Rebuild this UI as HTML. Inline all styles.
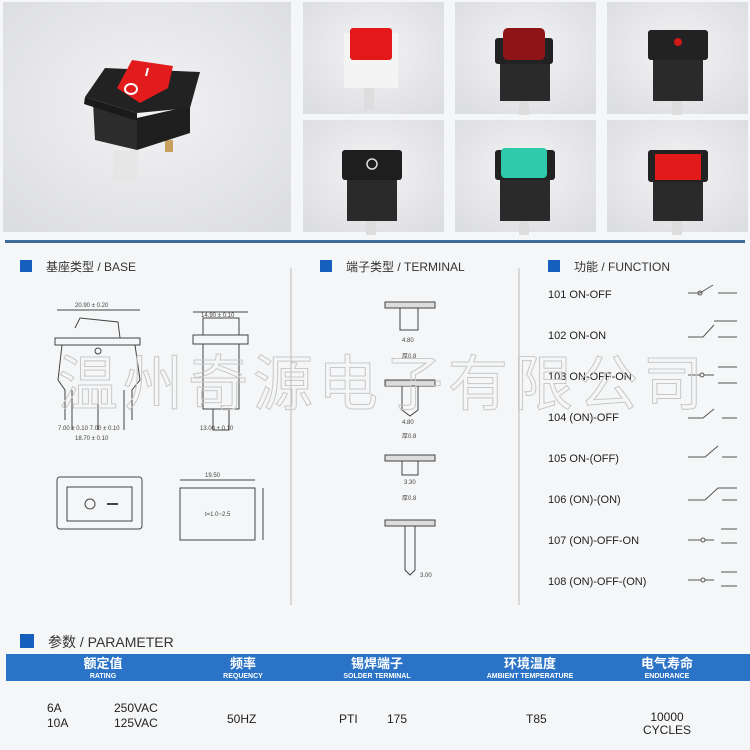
<!DOCTYPE html>
<html><head><meta charset="utf-8"><style>
html,body{margin:0;padding:0;background:#f5f6f7;}
svg{display:block;font-family:"Liberation Sans","Noto Sans CJK SC",sans-serif;}
</style></head><body>
<svg width="750" height="750" viewBox="0 0 750 750" xmlns="http://www.w3.org/2000/svg">
<defs>
<radialGradient id="bg" cx="50%" cy="45%" r="70%"><stop offset="0" stop-color="#f3f3f5"/><stop offset="1" stop-color="#dcdde1"/></radialGradient>
</defs>
<rect width="750" height="750" fill="#f5f6f7"/>
<rect x="3" y="2" width="288" height="230" fill="url(#bg)"/>
<rect x="303" y="2" width="141" height="112" fill="url(#bg)"/>
<rect x="455" y="2" width="141" height="112" fill="url(#bg)"/>
<rect x="607" y="2" width="141" height="112" fill="url(#bg)"/>
<rect x="303" y="120" width="141" height="112" fill="url(#bg)"/>
<rect x="455" y="120" width="141" height="112" fill="url(#bg)"/>
<rect x="607" y="120" width="141" height="112" fill="url(#bg)"/>
<!-- big switch -->
<rect x="113" y="150" width="25" height="30" fill="#e6e6e6"/>
<rect x="165" y="140" width="8" height="12" fill="#c8a060"/>
<polygon points="137,118 190,106 190,133 137,150" fill="#1e1e1e"/>
<polygon points="93,102 137,118 137,150 95,140" fill="#2c2c2c"/>
<polygon points="85,97 137,113 137,121 84,104" fill="#1a1a1a"/>
<polygon points="85,97 105,68 200,72 190,108 137,113" fill="#222"/>
<polygon points="117,88 132,60 173,66 168,88 140,103" fill="#e21c1c"/>
<ellipse cx="131" cy="89" rx="6" ry="5" fill="none" stroke="#fff" stroke-width="2"/>
<line x1="148" y1="68" x2="146" y2="76" stroke="#fff" stroke-width="2"/>
<g transform="translate(372,58)"><rect x="-28" y="-25" width="54" height="55" fill="#f4f4f4"/><rect x="-22" y="-30" width="42" height="32" rx="3" fill="#e41818"/><rect x="-8" y="30" width="10" height="22" fill="#ddd"/></g>
<g transform="translate(525,58)"><rect x="-25" y="-12" width="50" height="55" fill="#2a2a2a"/><rect x="-30" y="-20" width="58" height="26" rx="3" fill="#222"/><rect x="-22" y="-30" width="42" height="32" rx="5" fill="#8f1418"/><rect x="-6" y="43" width="10" height="14" fill="#ddd"/></g>
<g transform="translate(678,58)"><rect x="-25" y="-12" width="50" height="55" fill="#2a2a2a"/><rect x="-30" y="-28" width="60" height="30" rx="3" fill="#222"/><circle cx="0" cy="-16" r="4" fill="#d01818"/><rect x="-6" y="43" width="10" height="14" fill="#ddd"/></g>
<g transform="translate(372,178)"><rect x="-25" y="-12" width="50" height="55" fill="#2a2a2a"/><rect x="-30" y="-28" width="60" height="30" rx="3" fill="#1e1e1e"/><circle cx="0" cy="-14" r="5" fill="none" stroke="#ddd" stroke-width="1.5"/><rect x="-6" y="43" width="10" height="14" fill="#ddd"/></g>
<g transform="translate(525,178)"><rect x="-25" y="-12" width="50" height="55" fill="#2a2a2a"/><rect x="-30" y="-28" width="60" height="30" rx="3" fill="#222"/><rect x="-24" y="-30" width="46" height="30" rx="4" fill="#2fc9ab"/><rect x="-6" y="43" width="10" height="14" fill="#ddd"/></g>
<g transform="translate(678,178)"><rect x="-25" y="-12" width="50" height="55" fill="#2a2a2a"/><rect x="-30" y="-28" width="60" height="32" rx="3" fill="#222"/><rect x="-23" y="-24" width="46" height="26" fill="#e21a1a"/><rect x="-6" y="43" width="10" height="14" fill="#ddd"/></g>
<rect x="5" y="240" width="740" height="3" fill="#3f6a9a"/>
<rect x="20" y="260" width="12" height="12" fill="#1560bd"/>
<text x="46" y="271" font-size="12" fill="#333">基座类型 / BASE</text>
<line x1="291" y1="268" x2="291" y2="605" stroke="#bbb"/>
<rect x="320" y="260" width="12" height="12" fill="#1560bd"/>
<text x="346" y="271" font-size="12" fill="#333">端子类型 / TERMINAL</text>
<line x1="519" y1="268" x2="519" y2="605" stroke="#bbb"/>
<rect x="548" y="260" width="12" height="12" fill="#1560bd"/>
<text x="574" y="271" font-size="12" fill="#333">功能 / FUNCTION</text>
<g stroke="#444" fill="none" stroke-width="1">
<line x1="57" y1="310" x2="140" y2="310"/>
<path d="M75 328 L80 318 L118 322 L120 338"/>
<rect x="55" y="338" width="85" height="7"/>
<path d="M62 345 L58 380 L65 390 L65 420 M135 345 L140 380 L132 390 L132 420"/>
<line x1="72" y1="390" x2="72" y2="430"/><line x1="98" y1="390" x2="98" y2="430"/><line x1="124" y1="390" x2="124" y2="430"/>
<circle cx="98" cy="351" r="3"/>
<rect x="193" y="335" width="55" height="9"/>
<rect x="203" y="318" width="36" height="17"/>
<rect x="203" y="344" width="36" height="65"/>
<path d="M213 409 L213 430 L229 430 L229 409"/>
<line x1="193" y1="312" x2="248" y2="312"/>
<rect x="57" y="477" width="85" height="52" rx="3"/>
<rect x="67" y="487" width="65" height="34"/>
<circle cx="90" cy="504" r="5"/>
<line x1="107" y1="504" x2="118" y2="504" stroke-width="2"/>
<rect x="180" y="488" width="75" height="52"/>
<line x1="180" y1="480" x2="255" y2="480"/>
<line x1="263" y1="488" x2="263" y2="540"/>
</g>
<g font-size="6" fill="#444">
<text x="75" y="307">20.90 ± 0.20</text>
<text x="201" y="317">14.90 ± 0.10</text>
<text x="58" y="430">7.00 ± 0.10  7.00 ± 0.10</text>
<text x="75" y="440">18.70 ± 0.10</text>
<text x="200" y="430">13.00 ± 0.10</text>
<text x="205" y="477">19.50</text>
<text x="205" y="516">t=1.0~2.5</text>
</g>
<g stroke="#444" fill="none">
<rect x="385" y="302" width="50" height="6" fill="#ddd"/>
<path d="M400 308 L400 330 L418 330 L418 308"/>
<rect x="385" y="380" width="50" height="6" fill="#ddd"/>
<path d="M402 386 L402 410 L410 416 L418 410 L418 386"/>
<rect x="385" y="455" width="50" height="6" fill="#ddd"/>
<path d="M402 461 L402 475 L418 475 L418 461"/>
<rect x="385" y="520" width="50" height="6" fill="#ddd"/>
<path d="M405 526 L405 570 L410 575 L415 570 L415 526"/>
</g>
<g font-size="6" fill="#444">
<text x="402" y="342">4.80</text><text x="402" y="358">厚0.8</text>
<text x="402" y="424">4.80</text><text x="402" y="438">厚0.8</text>
<text x="404" y="484">3.30</text><text x="402" y="500">厚0.8</text>
<text x="420" y="577">3.00</text>
</g>
<g font-size="11" fill="#222">
<text x="548" y="298">101  ON-OFF</text>
<text x="548" y="339">102  ON-ON</text>
<text x="548" y="380">103  ON-OFF-ON</text>
<text x="548" y="421">104  (ON)-OFF</text>
<text x="548" y="462">105  ON-(OFF)</text>
<text x="548" y="503">106  (ON)-(ON)</text>
<text x="548" y="544">107  (ON)-OFF-ON</text>
<text x="548" y="585">108  (ON)-OFF-(ON)</text>
</g>
<g stroke="#555" fill="none" stroke-width="1">
<path d="M688 293 L700 293 M700 293 L713 285 M718 293 L737 293"/><circle cx="700" cy="293" r="2"/>
<path d="M688 337 L703 337 L714 325 M714 321 L737 321 M718 337 L737 337"/>
<path d="M688 375 L700 375 M704 375 L714 375 M718 367 L737 367 M718 383 L737 383"/><circle cx="702" cy="375" r="2"/>
<path d="M688 418 L703 418 L714 409 M722 418 L737 418"/>
<path d="M688 457 L705 457 L718 446 M722 457 L737 457"/>
<path d="M688 500 L705 500 L718 488 L737 488 M722 500 L737 500"/>
<path d="M688 540 L701 540 M705 540 L714 540 M721 529 L737 529 M721 543 L737 543"/><circle cx="703" cy="540" r="2"/>
<path d="M688 580 L701 580 M705 580 L714 580 M721 572 L737 572 M721 586 L737 586"/><circle cx="703" cy="580" r="2"/>
</g>
<text x="58" y="405" font-size="60" fill="none" stroke="#c8c8c8" stroke-width="1" letter-spacing="5" font-family="'Noto Sans CJK SC',sans-serif">温州奇源电子有限公司</text>
<rect x="20" y="634" width="14" height="14" fill="#1560bd"/>
<text x="48" y="647" font-size="14" fill="#333">参数 / PARAMETER</text>
<rect x="6" y="654" width="744" height="27" fill="#2a73c7"/>
<g fill="#fff" font-weight="bold" text-anchor="middle">
<text x="103" y="668" font-size="13">额定值</text><text x="103" y="678" font-size="7">RATING</text>
<text x="243" y="668" font-size="13">频率</text><text x="243" y="678" font-size="7">REQUENCY</text>
<text x="377" y="668" font-size="13">锡焊端子</text><text x="377" y="678" font-size="7">SOLDER TERMINAL</text>
<text x="530" y="668" font-size="13">环境温度</text><text x="530" y="678" font-size="7">AMBIENT TEMPERATURE</text>
<text x="667" y="668" font-size="13">电气寿命</text><text x="667" y="678" font-size="7">ENDURANCE</text>
</g>
<g font-size="12" fill="#222">
<text x="47" y="712">6A</text><text x="47" y="727">10A</text>
<text x="114" y="712">250VAC</text><text x="114" y="727">125VAC</text>
<text x="227" y="723">50HZ</text>
<text x="339" y="723">PTI</text><text x="387" y="723">175</text>
<text x="526" y="723">T85</text>
<text x="667" y="721" text-anchor="middle">10000</text><text x="667" y="734" text-anchor="middle">CYCLES</text>
</g>
</svg>
</body></html>
